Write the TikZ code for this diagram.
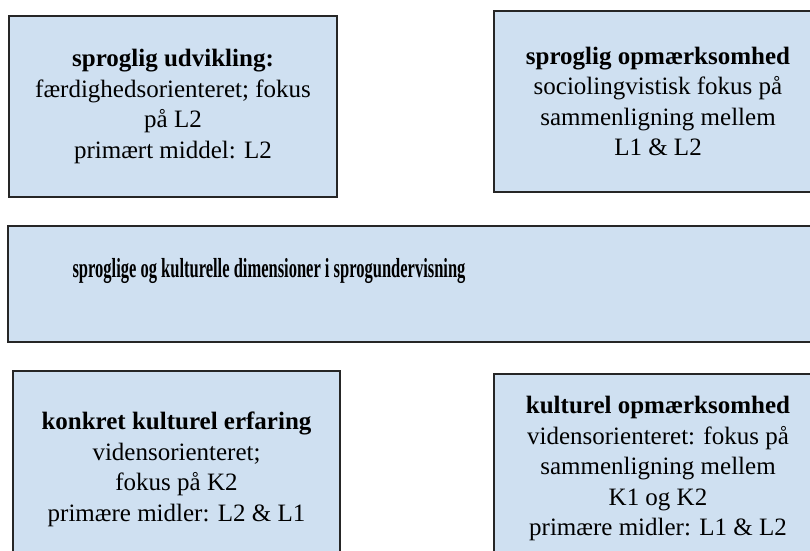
\documentclass[tikz,border=0pt]{standalone}
\usepackage{fontspec}
\setmainfont{Liberation Serif}
\usetikzlibrary{calc}
\definecolor{boxblue}{RGB}{207,224,241}

\begin{document}
\begin{tikzpicture}[x=1pt,y=-1pt,
    dimbox/.style={draw=black!85, line width=1.6pt, fill=boxblue, minimum width=328pt, minimum height=181pt, inner sep=0pt, align=center, font=\fontsize{25}{30.5}\selectfont},
    dimtext/.style={align=center, font=\fontsize{25}{30.5}\selectfont}]
            \useasboundingbox (0,0) rectangle (810,550);
            \clip (0,0) rectangle (810,550);
            \node[dimbox] at (173,106.5) (a) {\textbf{sproglig udvikling:}\\færdighedsorienteret; fokus\\på L2\\primært middel: L2};
            \node[dimbox] at (658,101.5) (b) {\textbf{sproglig opmærksomhed}\\sociolingvistisk fokus på\\sammenligning mellem\\L1 \& L2};
            \node[dimbox, minimum width=810pt, minimum height=116pt] at (413,284) (c) {};
            \node[dimtext, anchor=center] at ($(c.north)+(-144,46)$) (ct) {\scalebox{0.66}[1.1]{\textbf{sproglige og kulturelle dimensioner i sprogundervisning}}};
            \node[dimbox, minimum width=327pt, minimum height=197pt] at (176.5,469.5) (d) {\textbf{konkret kulturel erfaring}\\vidensorienteret;\\fokus på K2\\primære midler: L2 \& L1};
            \node[dimbox, minimum height=189pt] at (658,468.5) (e) {\textbf{kulturel opmærksomhed}\\vidensorienteret: fokus på\\sammenligning mellem\\K1 og K2\\primære midler: L1 \& L2};
        \end{tikzpicture}
\end{document}
